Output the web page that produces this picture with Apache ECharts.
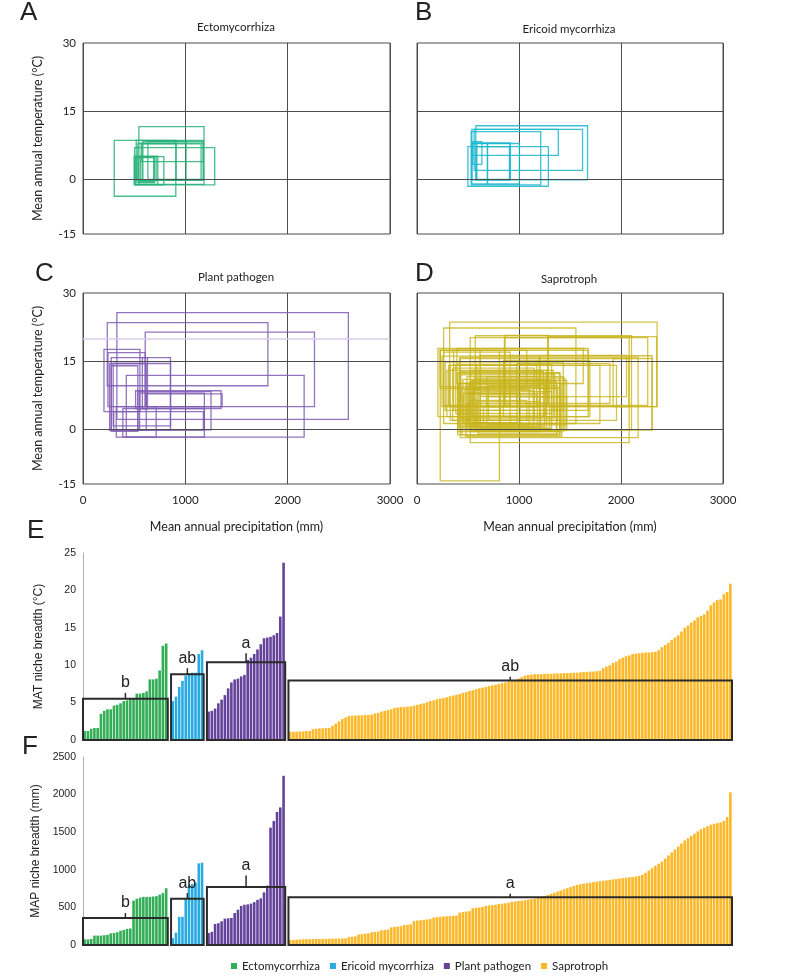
<!DOCTYPE html>
<html><head><meta charset="utf-8">
<script src="https://cdn.jsdelivr.net/npm/echarts@6/dist/echarts.min.js"></script>
<style>html,body{margin:0;padding:0;background:#fff}#c{width:790px;height:977px}</style>
</head><body><div id="c"></div>
<script>
// ---------- DATA ----------
const groups = ['Ectomycorrhiza', 'Ericoid mycorrhiza', 'Plant pathogen', 'Saprotroph'];
const precipTicks = [0, 1000, 2000, 3000];
const tempTickValues = [-12, 0, 15, 30];
const tempTickLabels = ['-15', '0', '15', '30'];

// niche rectangles: [MAP min, MAP max, MAT min, MAT max]
const ectoNiches = [
  [305,907,-3.7,8.6],[546,1183,-1.1,11.6],[520,1176,-0.2,8.6],[569,1176,3.9,8.0],
  [578,1154,-0.1,7.8],[504,1287,-1.2,7.0],[500,731,-1.1,5.1],[510,790,-1.2,5.0],
  [536,910,-0.1,7.9],[585,1007,-0.1,8.4],[520,699,-0.7,5.0],[634,1176,0.0,8.3],
  [540,690,-0.5,4.8],[560,715,-0.3,5.0]
];
const ericNiches = [
  [577,1672,-0.1,11.8],[561,1623,2.0,11.0],[538,1385,5.3,11.0],[531,1213,-1.2,10.5],
  [499,1288,-1.5,7.2],[538,913,-0.1,8.0],[548,636,3.3,8.3],[538,691,-1.0,7.9],
  [587,913,0.0,8.0],[691,1004,-1.0,7.9],[580,906,-0.1,7.2]
];
const pathNiches = [
  [331,2593,2.2,25.7],[237,1807,9.6,23.5],[608,2262,5.0,21.4],[423,2161,-1.7,11.9],
  [205,556,3.9,17.6],[244,608,5.0,16.9],[276,855,-0.1,15.8],[260,618,-0.2,14.5],
  [276,536,-0.4,14.0],[295,855,0.8,14.5],[514,1349,4.6,8.5],[536,1251,-0.1,8.3],
  [553,1186,-0.1,8.0],[325,715,-1.7,5.0],[300,1176,-0.1,3.9],[389,1186,-1.7,4.6],
  [620,1360,5.0,7.8],[580,630,4.5,15.8]
];
const saproNiches = [
  [320,2354,5.0,23.6],[261,1558,1.3,22.3],[571,2103,-0.1,20.6],[522,2080,-2.9,20.2],
  [857,2262,5.3,20.2],[1281,2350,5.0,20.4],[228,808,-11.3,17.4],[205,1679,2.8,17.8],
  [1206,2305,-0.1,16.2],[1923,2077,5.0,15.6],[417,2305,-0.1,15.6],[424,2168,-1.8,15.9],
  [277,1434,4.2,14.8],[398,1402,-1.2,12.3],[587,1793,1.3,14.1],[359,1679,4.2,17.4],
  [326,1956,2.0,14.1],[245,1200,5.0,16.1],[293,1337,2.8,13.0],[489,1434,-0.1,11.6],
  [538,1402,-0.5,10.8],[408,1271,0.6,10.1],[505,1206,1.3,9.4],[522,1369,-0.1,10.5],
  [554,1141,0.6,8.6],[456,1011,1.3,7.9],[619,1320,0.2,8.3],[424,1239,2.8,12.7],
  [685,1467,1.0,7.2],[522,1076,2.0,6.4],[587,1206,-0.5,6.1],[489,913,0.6,5.7],
  [652,1369,1.3,5.0],[228,1076,9.4,17.4],[261,913,5.3,17.0],[848,1695,2.8,15.2],
  [978,1891,5.7,14.5],[391,1630,10.1,17.8],[619,2054,7.2,16.3],[522,1271,7.9,13.0],
  [815,1467,-0.1,10.8],[440,1369,-1.2,9.0],[685,1206,5.0,11.6],[864,1288,5.7,20.7],
  [228,619,9.0,17.4],[554,913,5.0,10.1],[310,1174,5.0,14.1],[815,1402,2.8,7.2],
  [400,1400,-0.5,12.5],[450,1300,0.3,11.0],[500,1250,1.0,9.8],[350,1150,2.0,13.5],
  [600,1400,-1.0,9.2],[470,1100,0.8,8.8],[520,980,1.5,8.0],[430,1350,2.5,12.0],
  [560,1450,-0.3,11.3],[380,1320,3.5,14.3],[620,1180,0.5,7.6],[480,1420,-1.5,10.2],
  [700,1380,2.0,9.6],[540,1260,3.0,10.6]
];

// MAT niche breadth (°C), sorted per group
const ectoMAT = [1.2,1.2,1.5,1.6,1.6,3.5,3.9,4.1,4.1,4.6,4.7,4.9,5.2,5.3,5.6,5.6,6.2,6.2,6.3,6.5,8.1,8.1,8.2,9.3,12.6,12.9];
const ericMAT = [5.2,5.8,7.1,7.9,8.6,8.9,9.0,9.0,11.5,12.0];
const pathMAT = [3.8,3.9,4.2,4.9,5.4,6.0,6.9,7.7,8.1,8.2,8.5,8.7,10.7,11.0,11.5,12.1,12.8,13.6,13.7,13.8,14.0,14.3,16.5,23.7];
const saproMAT = [
  1.1,1.1,1.1,1.15,1.15,1.2,1.2, 1.45,1.5,1.55,1.55,1.6,1.6, 1.9,2.2,2.5,2.8,3.0,
  3.2,3.25,3.25,3.3,3.3,3.35,3.35,3.4, 3.55,3.6, 3.8,3.9,4.0,4.1, 4.3,4.35,4.4,4.4,4.45,4.5,
  4.6,4.7,4.8,4.9, 5.05,5.2,5.3, 5.45,5.55,5.6,5.7, 5.85,5.95,6.05,6.15, 6.3,6.4,6.55,6.65,
  6.8,6.9,7.0,7.1, 7.2,7.3,7.4,7.5, 7.6,7.7,7.8,7.9, 8.0,8.2,8.4,8.6,
  8.7,8.75,8.8,8.8,8.8,8.85,8.85,8.85,8.9,8.9,8.9,8.95,8.95,8.95,9.0,9.0,
  9.05,9.1,9.1,9.15,9.15,9.2,9.25, 9.6,9.8, 10.0,10.3,10.5, 10.8,11.0, 11.2,11.3,
  11.5,11.55,11.6,11.65,11.7,11.7,11.75,11.8, 12.0,12.4,12.7, 13.0,13.4,13.7,
  14.0,14.5,15.0, 15.3,15.7,16.0, 16.4,16.6,16.8, 17.3,18.0, 18.4,18.7,18.8, 19.5,19.8, 20.9
];
// MAP niche breadth (mm), sorted per group
const ectoMAP = [75,75,80,125,125,125,130,135,155,160,170,190,200,215,220,590,615,630,640,640,640,645,650,670,690,755];
const ericMAP = [90,165,375,375,610,790,810,830,1085,1095];
const pathMAP = [160,175,280,290,315,350,355,360,425,470,520,535,540,550,570,600,620,700,790,1560,1650,1770,1830,2250];
const saproMAP = [
  66,68,70, 75,76,77,78,79,80,80,81,82,83,84,85,86,87,88, 105,110,115, 140,145,150,155,
  170,175,180, 195,200,205, 235,240,245,250, 265,270,275, 320,325,330,335,340,345,
  365,370,375,380, 382,385,388,392, 430,438,445,450, 490,495,500,505, 520,525,530,535,
  545,550,555,560, 575,580,585,590,595, 605,610,615,625,635,
  650,665,680,695,710,725,740,755,770,785, 800,808,815,822,830,836,842,848,
  855,860,866,872,878,884,890,896, 900,905,910,920,935, 960,990,1020,1050,1080,
  1110,1150,1190,1230,1270, 1310,1350,1390,1420,1450, 1480,1510,1540,1560,1580,
  1600,1610,1620,1630,1650, 1700,2030
];
// group mean boxes, error-bar length and letters
const matBoxHeights = [5.5, 8.8, 10.4, 7.95];
const matBoxErr = [0.8, 0.8, 1.2, 0.5];
const matLetters = ['b', 'ab', 'a', 'ab'];
const mapBoxHeights = [360, 615, 770, 634];
const mapBoxErr = [66, 75, 155, 49];
const mapLetters = ['b', 'ab', 'a', 'a'];

// ---------- STYLE ----------
const barColors = ['#34ad57', '#29abe2', '#65439b', '#fbb829'];
const rectColors = ['rgba(40,178,122,0.85)', 'rgba(28,182,208,0.85)', 'rgba(128,92,180,0.85)', 'rgba(200,180,28,0.8)'];
const LATO = 'Lato';
const ARIAL = 'Liberation Sans';
const GRIDC = '#4d4d4d';
const plain = v => String(v);

// ---------- BUILD ----------
const matGroups = [ectoMAT, ericMAT, pathMAT, saproMAT];
const mapGroups = [ectoMAP, ericMAP, pathMAP, saproMAP];
const starts = [];
let pos = 0;
matGroups.forEach((g) => { starts.push(pos); pos += g.length + 1; });
const nCats = pos - 1;
const cats = Array.from({length: nCats}, (_, i) => String(i));
function place(arr, start) {
  const d = new Array(nCats).fill(null);
  arr.forEach((v, i) => { d[start + i] = v; });
  return d;
}

const panelGrids = [
  {left: 83, top: 43, width: 307, height: 191},
  {left: 417, top: 43, width: 306, height: 191},
  {left: 83, top: 293, width: 307, height: 191},
  {left: 417, top: 293, width: 306, height: 191}
];
const grids = panelGrids.map(g => Object.assign({show: true, borderColor: GRIDC, borderWidth: 1}, g));
grids.push({left: 83, top: 553, width: 649, height: 187});
grids.push({left: 83, top: 757, width: 649, height: 188});

const xAxes = [], yAxes = [], series = [];
for (let p = 0; p < 4; p++) {
  const showX = p >= 2, showY = p % 2 === 0;
  xAxes.push({
    type: 'value', gridIndex: p, min: precipTicks[0], max: precipTicks[3], interval: 1000,
    axisLine: {show: false}, axisTick: {show: false},
    splitLine: {show: true, lineStyle: {color: GRIDC, width: 1}},
    axisLabel: {show: showX, margin: 10, fontFamily: LATO, fontSize: 11.5, color: '#222', formatter: plain},
    name: showX ? 'Mean annual precipitation (mm)' : '', nameLocation: 'middle', nameGap: 36,
    nameTextStyle: {fontFamily: LATO, fontSize: 12.5, color: '#222'}
  });
  yAxes.push({
    type: 'value', gridIndex: p, min: -12, max: 30, interval: 3,
    axisLine: {show: false}, axisTick: {show: false}, splitLine: {show: false},
    axisLabel: {show: showY, margin: 7, fontFamily: LATO, fontSize: 11.5, color: '#222',
      formatter: v => { const r = Math.round(v); const k = tempTickValues.indexOf(r); return k >= 0 && Math.abs(v - r) < 1e-6 ? tempTickLabels[k] : ''; }},
    name: showY ? 'Mean annual temperature (°C)' : '', nameLocation: 'middle', nameGap: 39,
    nameTextStyle: {fontFamily: LATO, fontSize: 12.5, color: '#222'}
  });
}
[4, 5].forEach(g => {
  xAxes.push({type: 'category', gridIndex: g, data: cats, show: false, boundaryGap: true});
});
yAxes.push({type: 'value', gridIndex: 4, min: 0, max: 25, interval: 5,
  axisLine: {show: true, lineStyle: {color: '#b0b0b0'}}, axisTick: {show: false}, splitLine: {show: false},
  axisLabel: {margin: 7, fontFamily: ARIAL, fontSize: 10.5, color: '#222', formatter: plain},
  name: 'MAT niche breadth (°C)', nameLocation: 'middle', nameGap: 38,
  nameTextStyle: {fontFamily: ARIAL, fontSize: 12, color: '#222'}});
yAxes.push({type: 'value', gridIndex: 5, min: 0, max: 2500, interval: 500,
  axisLine: {show: true, lineStyle: {color: '#b0b0b0'}}, axisTick: {show: false}, splitLine: {show: false},
  axisLabel: {margin: 7, fontFamily: ARIAL, fontSize: 10.5, color: '#222', formatter: plain},
  name: 'MAP niche breadth (mm)', nameLocation: 'middle', nameGap: 38,
  nameTextStyle: {fontFamily: ARIAL, fontSize: 12, color: '#222'}});

// niche rectangle panels
const niches = [ectoNiches, ericNiches, pathNiches, saproNiches];
niches.forEach((rects, p) => {
  const mlData = [{yAxis: 0}, {yAxis: 15}];
  if (p === 2) mlData.push({yAxis: 20, lineStyle: {color: '#d9cdea', width: 1.5}});
  series.push({
    type: 'custom', name: 'niche' + p, xAxisIndex: p, yAxisIndex: p,
    data: rects, encode: {x: [0, 1], y: [2, 3]}, clip: true,
    renderItem: (params, api) => {
      const a = api.coord([api.value(0), api.value(3)]);
      const b = api.coord([api.value(1), api.value(2)]);
      return {type: 'rect', shape: {x: a[0], y: a[1], width: b[0] - a[0], height: b[1] - a[1]},
        style: {fill: 'none', stroke: rectColors[p], lineWidth: 1.3}};
    },
    markLine: {silent: true, symbol: 'none', label: {show: false},
      lineStyle: {color: GRIDC, type: 'solid', width: 1}, data: mlData}
  });
});

// bar panels
function addBars(groupsData, gi, boxH, boxErr, letters) {
  groupsData.forEach((arr, k) => {
    series.push({
      type: 'bar', name: groups[k], xAxisIndex: gi, yAxisIndex: gi,
      data: place(arr, starts[k]), barWidth: '80%', barGap: '-100%',
      itemStyle: {color: barColors[k]}
    });
  });
  const boxData = boxH.map((h, k) => [starts[k], starts[k] + groupsData[k].length - 1, h, boxErr[k]]);
  series.push({
    type: 'custom', name: 'box' + gi, xAxisIndex: gi, yAxisIndex: gi, z: 5,
    data: boxData, encode: {x: [0, 1], y: [2]},
    renderItem: (params, api) => {
      const bw = api.size([1, 0])[0];
      const p0 = api.coord([api.value(0), 0]);
      const p1 = api.coord([api.value(1), api.value(2)]);
      const tTop = api.coord([api.value(1), api.value(2) + api.value(3)])[1];
      const x0 = p0[0] - bw / 2, x1 = p1[0] + bw / 2, cx = (x0 + x1) / 2;
      return {type: 'group', children: [
        {type: 'rect', shape: {x: x0, y: p1[1], width: x1 - x0, height: p0[1] - p1[1]},
          style: {fill: 'none', stroke: '#2b2b2b', lineWidth: 2}},
        {type: 'line', shape: {x1: cx, y1: p1[1], x2: cx, y2: tTop},
          style: {stroke: '#2b2b2b', lineWidth: 1.5}},
        {type: 'text', x: cx, y: tTop - 2,
          style: {text: letters[params.dataIndex], textAlign: 'center', textVerticalAlign: 'bottom',
            align: 'center', verticalAlign: 'bottom', font: '16px "Liberation Sans"', fill: '#222'}}
      ]};
    }
  });
}
addBars(matGroups, 4, matBoxHeights, matBoxErr, matLetters);
addBars(mapGroups, 5, mapBoxHeights, mapBoxErr, mapLetters);

// texts
const panelLetters = [['A', 20, 0], ['B', 415, 0], ['C', 35, 261], ['D', 415, 261], ['E', 27, 518], ['F', 22, 734]];
const titlePos = [[236, 27], [569, 29], [236, 277], [569, 279]];
const graphics = [];
panelLetters.forEach(([t, x, y]) => graphics.push({type: 'text', left: x, top: y,
  style: {text: t, font: '26px "Liberation Sans"', fill: '#222'}}));
groups.forEach((t, i) => graphics.push({type: 'text', x: titlePos[i][0], y: titlePos[i][1],
  style: {text: t, font: '11.5px Lato', fill: '#222', textAlign: 'center', textVerticalAlign: 'middle', align: 'center', verticalAlign: 'middle'}}));

const chart = echarts.init(document.getElementById('c'), null, {renderer: 'canvas'});
chart.setOption({
  animation: false,
  backgroundColor: '#fff',
  grid: grids,
  xAxis: xAxes,
  yAxis: yAxes,
  series: series,
  legend: {data: groups, left: 226, top: 955, icon: 'rect', itemWidth: 6, itemHeight: 6, itemGap: 10,
    selectedMode: false, textStyle: {fontFamily: LATO, fontSize: 11.5, color: '#222'}},
  graphic: graphics
});
</script></body></html>
